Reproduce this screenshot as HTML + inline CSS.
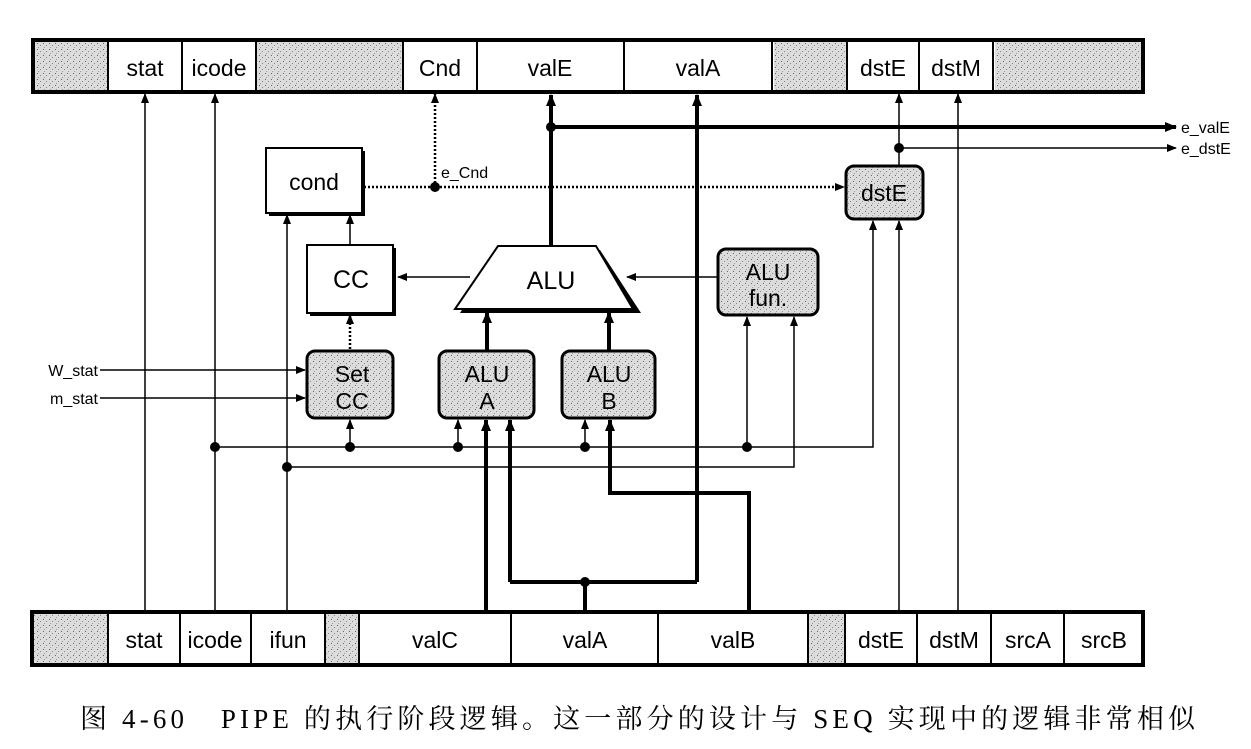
<!DOCTYPE html>
<html><head><meta charset="utf-8"><style>
html,body{margin:0;padding:0;background:#fff;}
svg{display:block;}
text{font-family:"Liberation Sans",Arial,sans-serif;fill:#000;}
.cap{font-family:"Liberation Serif","Noto Serif CJK SC",serif;font-size:27px;}
</style></head><body>
<svg width="1251" height="749" viewBox="0 0 1251 749" xmlns="http://www.w3.org/2000/svg">
<defs>
<pattern id="g" width="6" height="6" patternUnits="userSpaceOnUse">
<rect width="6" height="6" fill="#dcdcdc"/><rect x="1" y="1" width="1" height="1" fill="#666"/><rect x="4" y="3" width="1" height="1" fill="#888"/><rect x="2" y="5" width="1" height="1" fill="#999"/>
</pattern>
<marker id="a" markerWidth="10" markerHeight="8" refX="9" refY="4" orient="auto" markerUnits="userSpaceOnUse"><path d="M0,0 L10,4 L0,8 z" fill="#000"/></marker>
<marker id="ab" markerWidth="12" markerHeight="10" refX="11" refY="5" orient="auto" markerUnits="userSpaceOnUse"><path d="M0,0 L12,5 L0,10 z" fill="#000"/></marker>
</defs>

<g stroke="#000" stroke-width="2">
<rect x="33" y="40" width="1110" height="52" fill="#fff" stroke-width="4"/>
<rect x="35" y="42" width="73" height="48" fill="url(#g)" stroke="none"/>
<rect x="257" y="42" width="145" height="48" fill="url(#g)" stroke="none"/>
<rect x="774" y="42" width="73" height="48" fill="url(#g)" stroke="none"/>
<rect x="995" y="42" width="146" height="48" fill="url(#g)" stroke="none"/>
<path d="M108 40V92M182 40V92M256 40V92M403 40V92M477 40V92M624 40V92M772 40V92M847 40V92M919 40V92M993 40V92"/>
</g>
<g font-size="23" text-anchor="middle">
<text x="145" y="76">stat</text><text x="219" y="76">icode</text><text x="440" y="76">Cnd</text>
<text x="550" y="76">valE</text><text x="698" y="76">valA</text><text x="883" y="76">dstE</text><text x="956" y="76">dstM</text>
</g>

<g stroke="#000" stroke-width="2">
<rect x="32" y="612" width="1111" height="53" fill="#fff" stroke-width="4"/>
<rect x="34" y="614" width="73" height="49" fill="url(#g)" stroke="none"/>
<rect x="326" y="614" width="32" height="49" fill="url(#g)" stroke="none"/>
<rect x="809" y="614" width="35" height="49" fill="url(#g)" stroke="none"/>
<path d="M108 612V665M180 612V665M251 612V665M325 612V665M359 612V665M511 612V665M658 612V665M808 612V665M845 612V665M917 612V665M991 612V665M1064 612V665"/>
</g>
<g font-size="23" text-anchor="middle">
<text x="144" y="648">stat</text><text x="215" y="648">icode</text><text x="288" y="648">ifun</text>
<text x="435" y="648">valC</text><text x="585" y="648">valA</text><text x="733" y="648">valB</text>
<text x="881" y="648">dstE</text><text x="954" y="648">dstM</text><text x="1028" y="648">srcA</text><text x="1104" y="648">srcB</text>
</g>

<g stroke="#000" stroke-width="1.5" fill="none">
<path d="M145 612V94" marker-end="url(#a)"/>
<path d="M215 612V94" marker-end="url(#a)"/>
<path d="M287 612V215" marker-end="url(#a)"/>
<path d="M958 612V94" marker-end="url(#a)"/>
<path d="M899 612V221" marker-end="url(#a)"/>
<path d="M899 165V94" marker-end="url(#a)"/>
<path d="M899 148H1176" marker-end="url(#a)"/>
<path d="M350 245V215" marker-end="url(#a)"/>
<path d="M470 277H398" marker-end="url(#a)"/>
<path d="M717 277H627" marker-end="url(#a)"/>
<path d="M100 370H305" marker-end="url(#a)"/>
<path d="M100 398H305" marker-end="url(#a)"/>
<path d="M215 447H873V221" marker-end="url(#a)"/>
<path d="M350 447V420" marker-end="url(#a)"/>
<path d="M458 447V420" marker-end="url(#a)"/>
<path d="M585 447V420" marker-end="url(#a)"/>
<path d="M747 447V317" marker-end="url(#a)"/>
<path d="M287 467H794V317" marker-end="url(#a)"/>
</g>
<g stroke="#000" stroke-width="2.5" stroke-dasharray="2,2" fill="none">
<path d="M435 187V94" marker-end="url(#a)"/>
<path d="M364 187H844" marker-end="url(#a)"/>
<path d="M350 349V315" marker-end="url(#a)"/>
</g>
<g stroke="#000" stroke-width="4" fill="none">
<path d="M551 245V95" marker-end="url(#ab)"/>
<path d="M551 127H1176" marker-end="url(#ab)"/>
<path d="M697 582V95" marker-end="url(#ab)"/>
<path d="M585 612V582M510 582H697M510 582V420" marker-end="url(#ab)"/>
<path d="M486 612V420" marker-end="url(#ab)"/>
<path d="M749 612V493H610V420" marker-end="url(#ab)"/>
<path d="M487 350V312" marker-end="url(#ab)"/>
<path d="M609 350V312" marker-end="url(#ab)"/>
</g>
<g fill="#000">
<circle cx="551" cy="127" r="5"/><circle cx="899" cy="148" r="5"/><circle cx="435" cy="187" r="5"/>
<circle cx="215" cy="447" r="5"/><circle cx="350" cy="447" r="5"/><circle cx="458" cy="447" r="5"/>
<circle cx="585" cy="447" r="5"/><circle cx="747" cy="447" r="5"/><circle cx="287" cy="467" r="5"/><circle cx="585" cy="582" r="5"/>
</g>

<rect x="269" y="151" width="96" height="65" fill="#000"/>
<rect x="266" y="148" width="96" height="65" fill="#fff" stroke="#000" stroke-width="2"/>
<text x="314" y="190" font-size="23" text-anchor="middle">cond</text>
<rect x="310" y="248" width="86" height="68" fill="#000"/>
<rect x="307" y="245" width="86" height="68" fill="#fff" stroke="#000" stroke-width="2"/>
<text x="351" y="288" font-size="25" text-anchor="middle">CC</text>

<path d="M500 250 L600 250 L641 313 L460 313 z" fill="#000"/>
<path d="M498 246 L596 246 L633 309 L455 309 z" fill="#fff" stroke="#000" stroke-width="2"/>
<text x="551" y="289" font-size="25" text-anchor="middle">ALU</text>

<g stroke="#000" stroke-width="3" fill="url(#g)">
<rect x="307" y="351" width="86" height="67" rx="8"/>
<rect x="439" y="351" width="95" height="67" rx="8"/>
<rect x="562" y="351" width="93" height="67" rx="8"/>
<rect x="718" y="249" width="100" height="66" rx="8"/>
<rect x="846" y="166" width="77" height="53" rx="8"/>
</g>
<g font-size="23" text-anchor="middle">
<text x="352" y="382">Set</text><text x="352" y="409">CC</text>
<text x="487" y="382">ALU</text><text x="487" y="409">A</text>
<text x="609" y="382">ALU</text><text x="609" y="409">B</text>
<text x="768" y="280">ALU</text><text x="768" y="306">fun.</text>
<text x="884" y="201">dstE</text>
</g>

<g font-size="16">
<text x="441" y="178">e_Cnd</text>
<text x="1181" y="133">e_valE</text>
<text x="1181" y="154">e_dstE</text>
<text x="98" y="376" text-anchor="end">W_stat</text>
<text x="98" y="404" text-anchor="end">m_stat</text>
</g>

<text class="cap" x="80" y="728" xml:space="preserve" textLength="1115" lengthAdjust="spacing">图 4-60   PIPE 的执行阶段逻辑。这一部分的设计与 SEQ 实现中的逻辑非常相似</text>
</svg>
</body></html>
